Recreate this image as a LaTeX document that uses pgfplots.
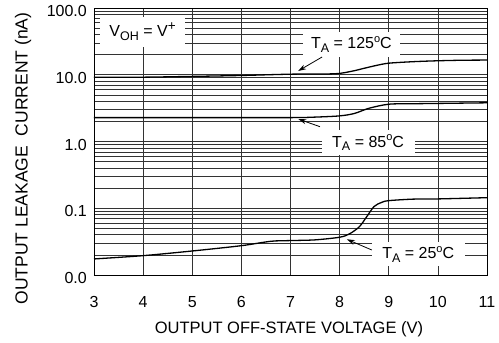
\documentclass[border=0pt]{standalone}
\usepackage{fontspec}
\setmainfont{Liberation Sans}
\usepackage{pgfplots}
\pgfplotsset{compat=1.18}
\usetikzlibrary{arrows.meta}

\newcommand{\sub}[1]{\raisebox{-0.45ex}{\fontsize{12.5}{13}\selectfont #1}}
\newcommand{\sups}[1]{\raisebox{0.75ex}{\fontsize{11}{12}\selectfont #1}}
\newcommand{\plus}{\raisebox{0.7ex}{\fontsize{13.5}{14}\selectfont +}}

\begin{document}
\begin{tikzpicture}
\useasboundingbox (-94pt,-68pt) rectangle (405pt,275pt);
\begin{axis}[
  scale only axis,
  width=393pt, height=267pt,
  xmin=3, xmax=11,
  ymode=log, ymin=0.01, ymax=100,
  xtick={3,4,...,11},
  ytick={0.01,0.1,1,10,100},
  yticklabels={0.0,0.1,1.0,10.0,100.0},
  /pgf/number format/assume math mode=true,
  grid=both,
  major grid style={black!80, line width=0.65pt},
  minor grid style={black!80, line width=0.65pt},
  major tick length=0pt, minor tick length=0pt,
  axis line style={black, line width=0.9pt},
  tick label style={font=\fontsize{16}{19}\selectfont},
  xticklabel style={inner sep=0pt, anchor=north, yshift=-21pt},
  yticklabel style={inner sep=0pt, anchor=east, xshift=-7pt, yshift=-3pt},
  xlabel={OUTPUT OFF-STATE VOLTAGE (V)},
  ylabel={OUTPUT LEAKAGE\ \ CURRENT (nA)},
  xlabel style={font=\fontsize{16.5}{19}\selectfont, at={(axis description cs:0.496,-0.2191)}, anchor=base},
  ylabel style={font=\fontsize{17.5}{20}\selectfont, at={(axis description cs:-0.1692,0.4363)}, anchor=base},
]
% T_A = 125 C
\addplot[black, line width=1.3pt, smooth, tension=0.5] coordinates {
  (3,9.2) (4,9.2) (5,9.45) (6,9.75) (7,10.2) (7.9,10.35) (8.25,11.3)
  (8.5,12.5) (8.75,13.8) (9,14.9) (9.5,15.7) (10,16.2) (10.5,16.5) (11,16.6)
};
% T_A = 85 C
\addplot[black, line width=1.3pt, smooth, tension=0.5] coordinates {
  (3,2.28) (5,2.28) (7,2.28) (7.5,2.32) (8,2.42) (8.3,2.63) (8.6,3.15)
  (9,3.62) (9.5,3.68) (10,3.72) (11,3.8)
};
% T_A = 25 C
\addplot[black, line width=1.3pt, smooth, tension=0.5] coordinates {
  (3,0.0174) (4,0.0195) (5,0.0229) (6,0.0275) (6.6,0.0320) (7,0.0328)
  (7.5,0.0336) (8,0.0368) (8.2,0.0413) (8.4,0.0527) (8.55,0.0744)
  (8.7,0.106) (8.85,0.122) (9,0.130) (9.5,0.137) (10,0.138) (11,0.144)
};

% annotations
\node[fill=white, inner sep=0pt, minimum width=85pt, minimum height=30pt,
      font=\fontsize{16}{19}\selectfont] at (axis cs:3.988,43.7)
      {V\sub{OH} = V\plus};
\node[fill=white, inner sep=0pt, minimum width=97pt, minimum height=25pt,
      font=\fontsize{16}{19}\selectfont] at (axis cs:8.24,28.2)
      {T\sub{A} = 125\sups{o}C};
\node[fill=white, inner sep=0pt, minimum width=93pt, minimum height=25pt,
      font=\fontsize{16}{19}\selectfont] at (axis cs:8.58,0.955)
      {T\sub{A} = 85\sups{o}C};
\node[fill=white, inner sep=0pt, minimum width=93pt, minimum height=24pt,
      font=\fontsize{16}{19}\selectfont] at (axis cs:9.6,0.0205)
      {T\sub{A} = 25\sups{o}C};

\draw[line width=0.8pt, -{Stealth[length=8pt,width=5pt]}]
  (axis cs:7.643,18.45) -- (axis cs:7.155,11.38);
\draw[line width=0.8pt, -{Stealth[length=8pt,width=5pt]}]
  (axis cs:7.60,1.667) -- (axis cs:7.16,2.17);
\draw[line width=0.8pt, -{Stealth[length=8pt,width=5pt]}]
  (axis cs:8.656,0.02368) -- (axis cs:8.147,0.03425);
\end{axis}
\end{tikzpicture}
\end{document}
